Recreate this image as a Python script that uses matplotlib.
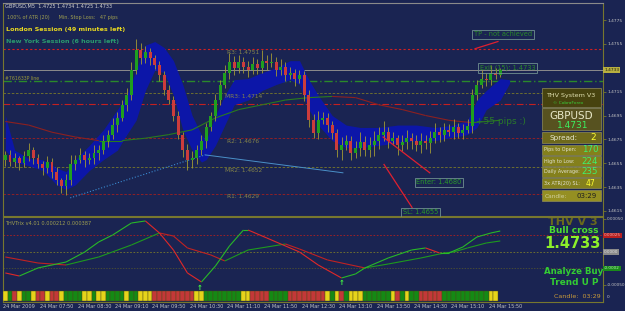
import numpy as np
import matplotlib.pyplot as plt
from matplotlib.collections import LineCollection

BG = '#1a2452'
FRAME = '#77772e'
W, H = 625, 311

# ---- price data (GBPUSD M5) ----
first_open = 1.4658
closes = [1.4662, 1.4656, 1.4659, 1.4655, 1.4661, 1.4666, 1.4659, 1.4654, 1.4651, 1.4656,
          1.4648, 1.4641, 1.4636, 1.4641, 1.4654, 1.4658, 1.4662, 1.4658, 1.4659, 1.4664,
          1.4666, 1.4674, 1.4679, 1.4687, 1.4693, 1.4704, 1.4712, 1.4733, 1.4750, 1.4743,
          1.4748, 1.4743, 1.4737, 1.4729, 1.4716, 1.4708, 1.4695, 1.4679, 1.4666, 1.4658,
          1.4659, 1.4666, 1.4674, 1.4685, 1.4695, 1.4708, 1.4721, 1.4731, 1.4740, 1.4735,
          1.4740, 1.4736, 1.4733, 1.4738, 1.4735, 1.4741, 1.4739, 1.4740, 1.4733, 1.4736,
          1.4729, 1.4731, 1.4726, 1.4729, 1.4712, 1.4691, 1.4680, 1.4691, 1.4693, 1.4687,
          1.4680, 1.4666, 1.4670, 1.4674, 1.4664, 1.4668, 1.4673, 1.4666, 1.4670, 1.4674,
          1.4679, 1.4681, 1.4674, 1.4676, 1.4670, 1.4673, 1.4676, 1.4674, 1.4670, 1.4674,
          1.4672, 1.4676, 1.4681, 1.4679, 1.4683, 1.4681, 1.4685, 1.4680, 1.4683, 1.4686,
          1.4712, 1.4721, 1.4726, 1.4725, 1.4731, 1.4729, 1.4733]
wick_up = [3, 4, 5, 2, 4, 6, 3, 4, 3, 5,
           3, 4, 2, 5, 8, 4, 6, 3, 5, 6,
           4, 5, 4, 6, 5, 4, 6, 7, 9, 6,
           5, 4, 3, 4, 3, 5, 3, 4, 2, 5,
           6, 4, 5, 4, 3, 5, 4, 6, 7, 5,
           6, 4, 5, 6, 4, 9, 5, 7, 4, 6,
           4, 5, 3, 4, 3, 4, 5, 8, 5, 4,
           3, 4, 7, 5, 4, 6, 8, 5, 7, 8,
           6, 9, 4, 5, 3, 6, 7, 4, 5, 6,
           5, 6, 8, 4, 6, 5, 7, 4, 5, 6,
           5, 4, 7, 5, 6, 4, 2]
wick_dn = [5, 3, 4, 6, 3, 4, 5, 3, 6, 4,
           5, 4, 6, 8, 4, 5, 3, 6, 4, 5,
           6, 3, 5, 4, 6, 3, 5, 4, 3, 5,
           4, 6, 3, 5, 4, 3, 5, 4, 6, 9,
           7, 5, 4, 6, 3, 5, 4, 3, 5, 6,
           4, 5, 6, 3, 5, 4, 6, 3, 5, 4,
           5, 3, 6, 4, 5, 6, 4, 5, 3, 6,
           5, 6, 8, 4, 6, 5, 7, 5, 6, 9,
           7, 5, 6, 4, 8, 5, 6, 7, 5, 6,
           5, 8, 4, 6, 5, 3, 6, 4, 5, 3,
           6, 4, 3, 5, 4, 3, 2]

# blue channel
band_idx = [0, 2, 5, 8, 11, 13, 15, 18, 21, 24, 26, 28, 30, 32, 34, 36, 38, 40, 42, 43,
            45, 47, 49, 52, 55, 58, 61, 63, 65, 67, 70, 73, 76, 80, 84, 88, 92, 96, 99,
            101, 103, 106, 108]
band_top = [1.4695, 1.4666, 1.4659, 1.4658, 1.4651, 1.4648, 1.4658, 1.4670, 1.4683, 1.4700,
            1.4712, 1.4733, 1.4754, 1.4757, 1.4752, 1.4741, 1.4721, 1.4695, 1.4679, 1.4674,
            1.4695, 1.4712, 1.4725, 1.4726, 1.4731, 1.4735, 1.4741, 1.4741, 1.4725, 1.4712,
            1.4695, 1.4687, 1.4685, 1.4685, 1.4687, 1.4687, 1.4685, 1.4687, 1.4691,
            1.4708, 1.4716, 1.4726, 1.4725]
band_bot = [1.4666, 1.4656, 1.4653, 1.4649, 1.4637, 1.4633, 1.4637, 1.4649, 1.4658, 1.4666,
            1.4679, 1.4691, 1.4716, 1.4733, 1.4731, 1.4712, 1.4683, 1.4666, 1.4656, 1.4658,
            1.4670, 1.4687, 1.4704, 1.4708, 1.4716, 1.4721, 1.4725, 1.4721, 1.4700, 1.4687,
            1.4674, 1.4668, 1.4668, 1.4670, 1.4672, 1.4674, 1.4674, 1.4677, 1.4679,
            1.4685, 1.4700, 1.4708, 1.4722]

# slow moving average
ma_idx = [0, 5, 10, 15, 20, 25, 30, 35, 40, 45, 50, 55, 60, 65, 70, 75, 80, 85, 90, 95, 100, 106]
ma_val = [1.4690, 1.4687, 1.4681, 1.4677, 1.4674, 1.4674, 1.4676, 1.4679, 1.4683, 1.4693, 1.4700,
          1.4704, 1.4708, 1.4710, 1.4711, 1.4710, 1.4704, 1.4700, 1.4695, 1.4691, 1.4689, 1.4691]

# pivots / levels
pivot_names = ['R3', 'MR3', 'R2', 'MR2', 'R1']
pivot_vals = [1.4751, 1.4714, 1.4676, 1.4652, 1.4629]
bid = 1.4733
pline = 1.4724
red_level = 1.4705
price_ticks = [1.4775, 1.4755, 1.4715, 1.4695, 1.4675, 1.4655, 1.4635, 1.4615]

# THVTrix indicator
fast_idx = [0, 3, 7, 13, 17, 20, 23, 27, 30, 33, 36, 39, 42, 45, 48, 51, 52, 56, 59, 63, 67,
            72, 75, 77, 82, 87, 90, 93, 95, 98, 101, 104, 106]
fast_val = [-0.000318, -0.000364, -0.000242, -0.000152, 0.0, 0.000152, 0.000258, 0.000439,
            0.00047, 0.000288, 0.00003, -0.000318, -0.000455, -0.000212, 0.000091, 0.000333,
            0.000333, 0.000212, 0.000121, 0.0, -0.000197, -0.000394, -0.000333, -0.000242,
            -0.000091, 0.00003, 0.000061, -0.000015, -0.000015, 0.000076, 0.000227, 0.000288,
            0.000318]
slow_idx = [0, 7, 13, 20, 27, 33, 36, 39, 44, 47, 52, 60, 63, 69, 77, 82, 89, 94, 96, 99, 103, 106]
slow_val = [-0.000076, -0.000167, -0.000197, -0.000076, 0.000106, 0.000288, 0.000242, 0.000061,
            -0.000045, -0.000136, 0.00003, 0.000121, 0.000045, -0.000121, -0.000242, -0.000182,
            -0.000091, -0.000015, 0.0, 0.000061, 0.000136, 0.000167]
trend_strip = ("YGRYGGYRRY" "RRYGGGGYYG" "YYGGGGYGGY" "YYRRRRRRRR" "RYYGGGGGGG"
               "GYYRRRRGGG" "GRRRRRRRRY" "GYRGYYYGGG" "GGGYRGYGGR" "RRRRGGGGGG" "GGGGYY")
date_labels = ['24 Mar 2009', '24 Mar 07:50', '24 Mar 08:30', '24 Mar 09:10', '24 Mar 09:50',
               '24 Mar 10:30', '24 Mar 11:10', '24 Mar 11:50', '24 Mar 12:30', '24 Mar 13:10',
               '24 Mar 13:50', '24 Mar 14:30', '24 Mar 15:10', '24 Mar 15:50']


def box(x0, y0, x1, y1):
    return [x0 / W, 1 - y1 / H, (x1 - x0) / W, (y1 - y0) / H]


fig = plt.figure(figsize=(6.25, 3.11), dpi=100, facecolor=BG)
ax = fig.add_axes(box(3, 3, 603, 216), facecolor=BG)
ax2 = fig.add_axes(box(3, 217, 603, 302), facecolor=BG, sharex=ax)

for a in (ax, ax2):
    for s in a.spines.values():
        s.set_color(FRAME)
        s.set_linewidth(0.8)
ax.spines['top'].set_color('#8a8a8a')

ax.set_xlim(-0.5, 128)
ax.set_ylim(1.46108, 1.47893)
ax2.set_ylim(-0.000758, 0.00053)

# ---- main chart ----
n = len(closes)
idx = np.arange(n)
c = np.array(closes)
o = np.array([first_open] + closes[:-1])
hi = np.maximum(o, c) + np.array(wick_up) * 0.0001
lo = np.minimum(o, c) - np.array(wick_dn) * 0.0001
up = c >= o

ax.fill_between(band_idx, band_bot, band_top, color='#0c16a8', lw=0, zorder=2)
ax.vlines(idx, lo, hi, color='#a39b35', lw=0.6, zorder=3)
ax.bar(idx, np.maximum(np.abs(c - o), 0.00006), bottom=np.minimum(o, c), width=0.62,
       color=np.where(up, '#1f9f1f', '#cc3c3c'), lw=0, zorder=4)

segs, cols = [], []
for i in range(len(ma_idx) - 1):
    segs.append([(ma_idx[i], ma_val[i]), (ma_idx[i + 1], ma_val[i + 1])])
    cols.append('#2a7a1e' if ma_val[i + 1] >= ma_val[i] else '#8c2020')
ax.add_collection(LineCollection(segs, colors=cols, lw=0.8, zorder=2.5))

ax.axhline(pivot_vals[0], color='#d42020', lw=0.8, ls=(0, (2, 2)), zorder=1)
ax.axhline(bid, color='#8c8c8c', lw=0.7, zorder=1)
ax.axhline(pline, color='#2a8a2a', lw=1.0, ls=(0, (6, 2, 1, 2)), zorder=1)
ax.axhline(pivot_vals[1], color='#7a7a2a', lw=0.6, ls=(0, (3, 2)), zorder=1)
ax.axhline(red_level, color='#c42020', lw=0.8, ls=(0, (6, 2, 1, 2)), zorder=1)
ax.axhline(pivot_vals[2], color='#a02020', lw=0.6, ls=(0, (3, 2)), zorder=1)
ax.axhline(pivot_vals[3], color='#7a7a2a', lw=0.6, ls=(0, (3, 2)), zorder=1)
ax.axhline(pivot_vals[4], color='#a02020', lw=0.6, ls=(0, (3, 2)), zorder=1)

pv_pos = [(47.5, 1.4748), (47.0, 1.4711), (47.5, 1.4673), (47.0, 1.4649), (47.5, 1.4627)]
for name, val, (px, py) in zip(pivot_names, pivot_vals, pv_pos):
    ax.text(px, py, f'{name}: {val:.4f}', color='#85854a', fontsize=4.2, va='center', zorder=5)

# trend line and trade lines
ax.plot([13.9, 42.8], [1.4626, 1.4662], color='#3a8ad0', ls=':', lw=0.8, zorder=2.6)
ax.plot([42.8, 72.3], [1.4662, 1.4647], color='#4a90c8', lw=0.7, zorder=2.6)
ax.plot([80.9, 90.9], [1.4677, 1.4647], color='#e02030', lw=0.9, zorder=5)
ax.plot([81.1, 87.1], [1.4654, 1.4618], color='#e02030', lw=0.9, zorder=5)
ax.plot([100.6, 105.5], [1.4751, 1.4757], color='#e02030', lw=0.9, zorder=5)

bx = dict(boxstyle='square,pad=0.25', fc='none', ec='#6f9090', lw=0.6)
ax.text(106.6, 1.4763, 'TP - not achieved', color='#2a8a2a', fontsize=4.8, ha='center', va='center', bbox=bx, zorder=6)
ax.text(107.6, 1.4735, 'Exit (15): 1.4733', color='#2a8a2a', fontsize=4.8, ha='center', va='center', bbox=bx, zorder=6)
ax.text(92.9, 1.4639, 'Enter: 1.4680', color='#2a9a2a', fontsize=4.8, ha='center', va='center', bbox=bx, zorder=6)
ax.text(88.9, 1.4614, 'SL: 1.4655', color='#2a9a2a', fontsize=4.8, ha='center', va='center', bbox=bx, zorder=6)
ax.text(106.1, 1.4690, '+55 pips :)', color='#2a7a2a', fontsize=6.5, ha='center', va='center', zorder=6)

ax.yaxis.tick_right()
ax.set_yticks(price_ticks)
ax.set_yticklabels([f'{p:.4f}' for p in price_ticks])
ax.tick_params(axis='y', colors=FRAME, labelcolor='#c4c4c4', labelsize=3.2, length=2, width=0.6, pad=1)
ax.tick_params(axis='x', bottom=False, labelbottom=False)
ax.text(1.002, bid, f'{bid:.4f}', transform=ax.get_yaxis_transform(), color='#202010', fontsize=3.2,
        va='center', bbox=dict(boxstyle='square,pad=0.25', fc='#b8b040', ec='none'), clip_on=False)

# ---- indicator ----
for xs, vs, g, r in ((slow_idx, slow_val, '#1e9a1e', '#c02222'), (fast_idx, fast_val, '#28b828', '#e02828')):
    segs, cols = [], []
    for i in range(len(xs) - 1):
        segs.append([(xs[i], vs[i]), (xs[i + 1], vs[i + 1])])
        cols.append(g if vs[i + 1] >= vs[i] else r)
    ax2.add_collection(LineCollection(segs, colors=cols, lw=0.8, zorder=3))

ax2.axhline(0.00025, color='#b02020', lw=0.6, ls=(0, (2, 2)))
ax2.axhline(0.0, color='#7a7a2a', lw=0.6, ls=(0, (2, 2)))
ax2.axhline(-0.00025, color='#5a5a2a', lw=0.5, ls=(0, (2, 2)))

strip_col = {'Y': '#e6d41a', 'G': '#148a14', 'R': '#c43838'}
ax2.bar(np.arange(len(trend_strip)), 0.000151, bottom=-0.000742, width=1.0,
        color=[strip_col[k] for k in trend_strip], edgecolor='#4a4a1a', lw=0.3, zorder=4)

ax2.text(41.7, -0.000545, '↑', color='#44ff44', fontsize=5, fontweight='bold', ha='center', va='center', zorder=5)
ax2.text(72.1, -0.00047, '↑', color='#44ff44', fontsize=5, fontweight='bold', ha='center', va='center', zorder=5)

ax2.text(0.003, 0.000435, 'THVTrix v4.01 0.000212 0.000387', color='#a0a050', fontsize=3.6, va='center', zorder=5,
         transform=ax2.get_yaxis_transform())
ax2.text(121.5, 0.00046, 'THV V 3', color='#6a6a1c', fontsize=8, fontweight='bold', ha='center', va='center', zorder=2)
ax2.text(121.8, 0.00033, 'Bull cross', color='#4cdc30', fontsize=6.5, fontweight='bold', ha='center', va='center', zorder=5)
ax2.text(121.5, 0.00013, '1.4733', color='#8cf02a', fontsize=10.5, fontweight='bold', ha='center', va='center', zorder=5)
ax2.text(121.8, -0.00029, 'Analyze Buy', color='#33cc33', fontsize=6.2, fontweight='bold', ha='center', va='center', zorder=5)
ax2.text(121.8, -0.00047, 'Trend U P', color='#33cc33', fontsize=6.4, fontweight='bold', ha='center', va='center', zorder=5)
ax2.text(122.5, -0.00068, 'Candle:  03:29', color='#c89a3a', fontsize=4.6, ha='center', va='center', zorder=5)

ax2.yaxis.tick_right()
ax2.set_yticks([0.0005, -0.0005])
ax2.set_yticklabels(['0.00050', '-0.00050'])
ax2.tick_params(axis='y', colors=FRAME, labelcolor='#c4c4c4', labelsize=3.0, length=2, width=0.6, pad=0.8)
for v, txt, fc, tc in ((0.00025, '0.00025', '#b82020', '#f0b0b0'), (0.0, '0.0000', '#8a8a8a', '#e0e0e0'),
                       (-0.00025, '-0.0002', '#1a8a1a', '#b0f0b0')):
    ax2.text(1.002, v, txt, transform=ax2.get_yaxis_transform(), color=tc, fontsize=3.0, va='center',
             bbox=dict(boxstyle='square,pad=0.2', fc=fc, ec='none'), clip_on=False)
ax2.text(1.006, -0.00068, '0', transform=ax2.get_yaxis_transform(), color='#c4c4c4', fontsize=3.2, va='center')

ax2.set_xticks([-0.5 + 8 * k for k in range(len(date_labels))])
ax2.set_xticklabels(date_labels, ha='left')
ax2.tick_params(axis='x', colors=FRAME, labelcolor='#c4c4c4', labelsize=3.6, length=0, pad=1.5)

# ---- overlay in pixel space: header texts and info panel ----
ov = fig.add_axes([0, 0, 1, 1])
ov.set_xlim(0, W)
ov.set_ylim(H, 0)
ov.axis('off')
ov.patch.set_alpha(0)

ov.text(5, 6, 'GBPUSD,M5  1.4725 1.4734 1.4725 1.4733', color='#d0d0d0', fontsize=3.6, va='center')
ov.text(7, 18, '100% of ATR (20)      Min. Stop Loss:   47 pips', color='#a0a050', fontsize=3.5, va='center')
ov.text(6, 30, 'London Session (49 minutes left)', color='#e8d820', fontsize=4.6, fontweight='bold', va='center')
ov.text(6, 42, 'New York Session (6 hours left)', color='#2a9a6e', fontsize=4.6, fontweight='bold', va='center')
ov.text(5, 79, '#761633P line', color='#9a9a3a', fontsize=3.3, va='center')

rows = [(88, 107, '#47430f'), (108, 130, '#575220'), (132, 143, '#6e691c'), (145, 155, '#84801c'),
        (156, 166, '#84801c'), (167, 177, '#84801c'), (178, 188, '#84801c'), (190, 201, '#958f22')]
for y0, y1, fc in rows:
    ov.add_patch(plt.Rectangle((542, y0), 59, y1 - y0, fc=fc, ec='#8f8c58', lw=0.5, zorder=8))

ov.text(571, 96, 'THV System V3', color='#e0e0b0', fontsize=4.6, ha='center', va='center', zorder=9)
ov.text(568, 103.5, '© CobraForex', color='#3ad03a', fontsize=3.2, ha='center', va='center', zorder=9)
ov.text(571, 116, 'GBPUSD', color='#e8e8c8', fontsize=7.5, ha='center', va='center', zorder=9)
ov.text(573, 126, '1.4731', color='#3cf060', fontsize=6.5, ha='center', va='center', zorder=9)
ov.text(550, 138, 'Spread:', color='#e8e8d0', fontsize=5.2, va='center', zorder=9)
ov.text(593, 138, '2', color='#ffff30', fontsize=6.5, ha='center', va='center', zorder=9)
info = [('Pips to Open:', '170', 150, '#40f070'), ('High to Low:', '224', 161, '#40f070'),
        ('Daily Average:', '235', 172, '#40f070'), ('3x ATR(20) SL:', '47', 183, '#ffff30')]
for lab, val, y, vc in info:
    ov.text(544, y, lab, color='#e0e0d0', fontsize=3.5, va='center', zorder=9)
    ov.text(590, y, val, color=vc, fontsize=6.2 if val != '47' else 5.5, ha='center', va='center', zorder=9)
ov.text(545, 196, 'Candle:', color='#d0d0a0', fontsize=4.2, va='center', zorder=9)
ov.text(587, 196, '03:29', color='#202020', fontsize=5, ha='center', va='center', zorder=9)

fig.savefig('out.png', dpi=100, facecolor=BG)
